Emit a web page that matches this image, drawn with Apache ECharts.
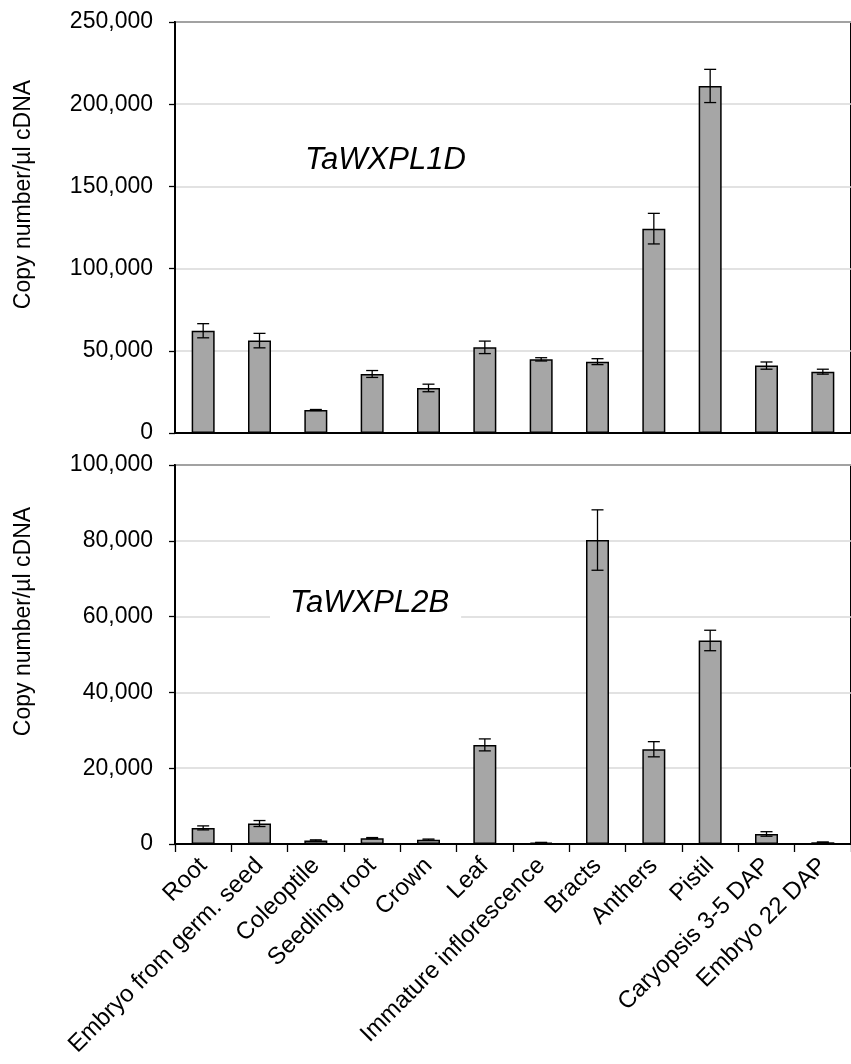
<!DOCTYPE html>
<html>
<head>
<meta charset="utf-8">
<script src="https://cdn.jsdelivr.net/npm/echarts@6/dist/echarts.min.js"></script>
<style>
html,body{margin:0;padding:0;background:#fff;}
#chart{width:851px;height:1064px;}
</style>
</head>
<body>
<div id="chart"></div>
<script>
const categories = ['Root','Embryo from germ. seed','Coleoptile','Seedling root','Crown','Leaf','Immature inflorescence','Bracts','Anthers','Pistil','Caryopsis 3-5 DAP','Embryo 22 DAP'];

const gene1Name = 'TaWXPL1D';
const gene1Values = [62200, 56200, 14000, 35900, 27400, 52100, 44800, 43400, 124300, 211100, 41000, 37300];
const gene1Errors = [4300, 4400, 300, 2100, 2300, 3800, 1000, 1800, 9300, 10100, 2200, 1500];

const gene2Name = 'TaWXPL2B';
const gene2Values = [4250, 5400, 950, 1550, 1150, 26150, 350, 80200, 25000, 53700, 2650, 450];
const gene2Errors = [530, 790, 150, 150, 150, 1580, 80, 7970, 2000, 2700, 600, 100];

const yTicks1 = {min: 0, max: 250000, interval: 50000};
const yTicks2 = {min: 0, max: 100000, interval: 20000};

const FONT = '"Liberation Sans", Arial, sans-serif';
const fmt = v => Number(v).toLocaleString('en-US');

function errSeries(xi, yi, vals, errs) {
  return {
    type: 'custom',
    xAxisIndex: xi, yAxisIndex: yi,
    z: 10,
    encode: {x: 0, y: 1},
    data: vals.map((v, i) => [i, v, errs[i]]),
    renderItem: function (params, api) {
      const x = api.value(0), v = api.value(1), e = api.value(2);
      const hi = api.coord([x, v + e]);
      const lo = api.coord([x, Math.max(0, v - e)]);
      const hw = 6;
      const st = {stroke: '#000', lineWidth: 1.3};
      return {
        type: 'group',
        children: [
          {type: 'line', shape: {x1: hi[0], y1: hi[1], x2: lo[0], y2: lo[1]}, style: st},
          {type: 'line', shape: {x1: hi[0] - hw, y1: hi[1], x2: hi[0] + hw, y2: hi[1]}, style: st},
          {type: 'line', shape: {x1: lo[0] - hw, y1: lo[1], x2: lo[0] + hw, y2: lo[1]}, style: st}
        ]
      };
    }
  };
}

const chart = echarts.init(document.getElementById('chart'), null, {renderer: 'canvas'});

const yAxisCommon = {
  type: 'value',
  name: 'Copy number/µl cDNA',
  nameLocation: 'middle',
  nameGap: 140,
  nameTextStyle: {fontFamily: FONT, fontSize: 23, color: '#000', padding: [0, 0, 0, 66]},
  axisLine: {show: true, lineStyle: {color: '#000', width: 2}},
  axisTick: {show: true, length: 6, lineStyle: {color: '#000', width: 1.3}},
  axisLabel: {fontFamily: FONT, fontSize: 23, color: '#000', margin: 22, formatter: fmt},
  splitLine: {show: true, lineStyle: {color: '#d9d9d9', width: 1.5}}
};

const option = {
  animation: false,
  backgroundColor: '#fff',
  title: [
    {text: gene1Name, left: 300, top: 140,
     textStyle: {fontFamily: FONT, fontSize: 31, fontStyle: 'italic', fontWeight: 'normal', color: '#000'}},
    {text: gene2Name, left: 270, top: 584, backgroundColor: '#fff', padding: [4, 12, 4, 20],
     textStyle: {fontFamily: FONT, fontSize: 31, fontStyle: 'italic', fontWeight: 'normal', color: '#000'}}
  ],
  grid: [
    {left: 175, top: 22, width: 682, height: 411, show: true, borderColor: '#000', borderWidth: 2, backgroundColor: 'transparent'},
    {left: 175, top: 465, width: 682, height: 379, show: true, borderColor: '#000', borderWidth: 2, backgroundColor: 'transparent'}
  ],
  xAxis: [
    {type: 'category', gridIndex: 0, data: categories,
     axisLine: {show: true, lineStyle: {color: '#000', width: 2}},
     axisTick: {show: false}, axisLabel: {show: false}},
    {type: 'category', gridIndex: 1, data: categories,
     axisLine: {show: true, lineStyle: {color: '#000', width: 2}},
     axisTick: {show: true, length: 8, lineStyle: {color: '#000', width: 1.3}},
     axisLabel: {fontFamily: FONT, fontSize: 24, color: '#000', rotate: 45, margin: 18, interval: 0}}
  ],
  yAxis: [
    Object.assign({}, yAxisCommon, {gridIndex: 0}, yTicks1),
    Object.assign({}, yAxisCommon, {gridIndex: 1}, yTicks2)
  ],
  series: [
    {type: 'bar', xAxisIndex: 0, yAxisIndex: 0, data: gene1Values, barWidth: 23,
     itemStyle: {color: '#a6a6a6', borderColor: '#000', borderWidth: 1.5}},
    errSeries(0, 0, gene1Values, gene1Errors),
    {type: 'bar', xAxisIndex: 1, yAxisIndex: 1, data: gene2Values, barWidth: 23,
     itemStyle: {color: '#a6a6a6', borderColor: '#000', borderWidth: 1.5}},
    errSeries(1, 1, gene2Values, gene2Errors)
  ]
};
chart.setOption(option);
</script>
</body>
</html>
